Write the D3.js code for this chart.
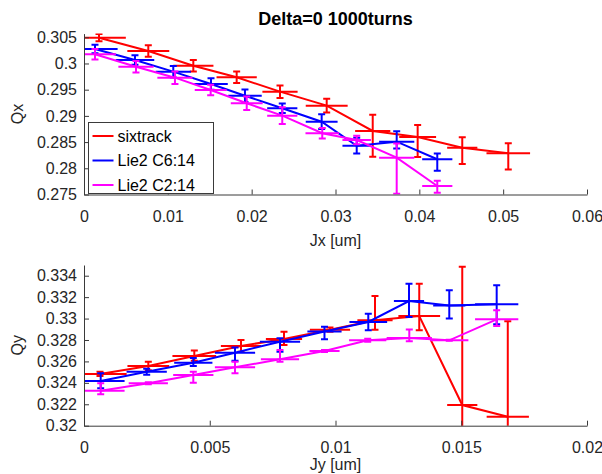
<!DOCTYPE html>
<html>
<head>
<meta charset="utf-8">
<script src="https://cdn.jsdelivr.net/npm/d3@7"></script>
<style>
body { margin: 0; background: #fff; }
text { font-family: "Liberation Sans", Arial, sans-serif; }
</style>
</head>
<body>
<svg width="602" height="474"></svg>
<script>
var seriesNames = ['sixtrack', 'Lie2 C6:14', 'Lie2 C2:14'];
var seriesColors = ['#ff0000', '#0000ff', '#ff00ff'];

// top panel: Qx against Jx (one inner array per series)
var topJx = [
    [0.00179, 0.00767, 0.01304, 0.01821, 0.02338, 0.02895, 0.03444, 0.03980, 0.04512, 0.05061],
    [0.00131, 0.00608, 0.01065, 0.01515, 0.01920, 0.02365, 0.02835, 0.03253, 0.03730, 0.04214],
    [0.00131, 0.00620, 0.01085, 0.01511, 0.01941, 0.02365, 0.02842, 0.03253, 0.03730, 0.04214]
];
var topQx = [
    [0.30492, 0.30239, 0.29958, 0.29737, 0.29462, 0.29195, 0.28712, 0.28597, 0.28393, 0.28286],
    [0.30277, 0.30067, 0.29844, 0.29609, 0.29385, 0.29145, 0.28889, 0.28431, 0.28508, 0.28172],
    [0.30176, 0.29939, 0.29729, 0.29494, 0.29240, 0.29004, 0.28668, 0.28540, 0.28202, 0.27662]
];
var topQxLo = [
    [0.0007, 0.0011, 0.0011, 0.0011, 0.0012, 0.0013, 0.0049, 0.0038, 0.0031, 0.0031],
    [0.0008, 0.0009, 0.0011, 0.0011, 0.0012, 0.0009, 0.0014, 0.0015, 0.0013, 0.0022],
    [0.0010, 0.0011, 0.0012, 0.0010, 0.0013, 0.0016, 0.0010, 0.0008, 0.0069, 0.0013]
];
var topQxHi = [
    [0.0007, 0.0011, 0.0011, 0.0011, 0.0012, 0.0013, 0.0031, 0.0023, 0.0020, 0.0019],
    [0.0008, 0.0009, 0.0011, 0.0011, 0.0012, 0.0009, 0.0014, 0.0015, 0.0020, 0.0011],
    [0.0010, 0.0011, 0.0012, 0.0010, 0.0013, 0.0016, 0.0010, 0.0008, 0.0027, 0.0010]
];
var topJxErr = [
    [0.0032, 0.0025, 0.0024, 0.0024, 0.0021, 0.0025, 0.0021, 0.0022, 0.0018, 0.0026],
    [0.0027, 0.0023, 0.0021, 0.0020, 0.0020, 0.0018, 0.0019, 0.0017, 0.0021, 0.0018],
    [0.0025, 0.0021, 0.0021, 0.0019, 0.0019, 0.0018, 0.0020, 0.0017, 0.0021, 0.0018]
];

// bottom panel: Qy against Jy
var botJy = [
    [0.000636, 0.002557, 0.004386, 0.006242, 0.007952, 0.009781, 0.01157, 0.01333, 0.01504, 0.01685],
    [0.000664, 0.002493, 0.004346, 0.006004, 0.007793, 0.009562, 0.011304, 0.012922, 0.014524, 0.016409],
    [0.000664, 0.002557, 0.004346, 0.006004, 0.007793, 0.009562, 0.01128, 0.012934, 0.014524, 0.016409]
];
var botQy = [
    [0.32483, 0.32557, 0.32651, 0.32744, 0.32809, 0.32896, 0.32984, 0.33024, 0.32193, 0.32084],
    [0.32417, 0.32504, 0.32588, 0.32681, 0.32784, 0.32879, 0.32968, 0.33164, 0.33122, 0.33133],
    [0.32327, 0.32396, 0.32473, 0.32545, 0.32620, 0.32697, 0.32797, 0.32819, 0.32797, 0.32993]
];
var botQyLo = [
    [0.0002, 0.0004, 0.00044, 0.00053, 0.00056, 0.0002, 0.00088, 0.00133, 0.0129, 0.0089],
    [0.00068, 0.00028, 0.00031, 0.00075, 0.00093, 0.00073, 0.00077, 0.00149, 0.00121, 0.00187],
    [0.00034, 0.0001, 0.00072, 0.00056, 0.00022, 0.0001, 0.00014, 0.00031, 0.00005, 0.00063]
];
var botQyHi = [
    [0.0002, 0.0004, 0.0005, 0.00056, 0.00068, 0.0002, 0.00227, 0.00301, 0.0129, 0.0089],
    [0.00072, 0.00028, 0.00044, 0.0005, 0.00032, 0.00045, 0.00077, 0.00161, 0.00142, 0.00177],
    [0.00069, 0.0001, 0.00031, 0.00052, 0.00087, 0.0001, 0.00014, 0.00078, 0.00005, 0.00084]
];
var botJyErr = [
    [0.00106, 0.00083, 0.00087, 0.0008, 0.00072, 0.0008, 0.0007, 0.00083, 0.0006, 0.00084],
    [0.00095, 0.0008, 0.00076, 0.0008, 0.0008, 0.00068, 0.00075, 0.0006, 0.00064, 0.00086],
    [0.00095, 0.00078, 0.0008, 0.0008, 0.00076, 0.0006, 0.00074, 0.0009, 0.00076, 0.00086]
];

var topXTicks = [0, 0.01, 0.02, 0.03, 0.04, 0.05, 0.06];
var topYTicks = [0.275, 0.28, 0.285, 0.29, 0.295, 0.3, 0.305];
var botXTicks = [0, 0.005, 0.01, 0.015, 0.02];
var botYTicks = [0.32, 0.322, 0.324, 0.326, 0.328, 0.33, 0.332, 0.334];

var svg = d3.select('svg');
var axisColor = '#3a3a3a';
var textColor = '#262626';

function fmt(d) { return String(+d.toFixed(4)); }

function drawPanel(p) {
    var scaleX = d3.scaleLinear().domain(p.xDomain).range([84, 587]);
    var scaleY = d3.scaleLinear().domain(p.yDomain).range(p.yRange);

    var clipId = 'clip' + p.id;
    svg.append('clipPath').attr('id', clipId)
        .append('rect')
        .attr('x', 84).attr('y', p.yRange[1])
        .attr('width', 503).attr('height', p.yRange[0] - p.yRange[1]);

    var g = svg.append('g').attr('clip-path', 'url(#' + clipId + ')');

    p.xs.forEach(function(xs, s) {
        var pts = xs.map(function(x, i) {
            return { x: x, y: p.ys[s][i], lo: p.lo[s][i], hi: p.hi[s][i], xe: p.xe[s][i] };
        });
        var col = seriesColors[s];
        var sg = g.append('g')
            .attr('stroke', col)
            .attr('stroke-width', 2)
            .attr('fill', 'none');

        sg.append('path')
            .datum(pts)
            .attr('d', d3.line()
                .x(function(d) { return scaleX(d.x); })
                .y(function(d) { return scaleY(d.y); }));

        // horizontal error bars
        sg.selectAll('.hbar')
            .data(pts)
            .enter()
            .append('line')
            .attr('x1', function(d) { return scaleX(d.x - d.xe); })
            .attr('x2', function(d) { return scaleX(d.x + d.xe); })
            .attr('y1', function(d) { return scaleY(d.y); })
            .attr('y2', function(d) { return scaleY(d.y); });

        // vertical error bars with caps
        sg.selectAll('.vbar')
            .data(pts)
            .enter()
            .append('path')
            .attr('d', function(d) {
                var cx = scaleX(d.x);
                var yt = scaleY(d.y + d.hi);
                var yb = scaleY(d.y - d.lo);
                return 'M' + cx + ',' + yt + 'V' + yb +
                    'M' + (cx - 3.5) + ',' + yt + 'H' + (cx + 3.5) +
                    'M' + (cx - 3.5) + ',' + yb + 'H' + (cx + 3.5);
            });
    });

    var xAxis = svg.append('g')
        .attr('transform', 'translate(0,' + p.yRange[0] + ')')
        .call(d3.axisBottom(scaleX).tickValues(p.xTicks).tickFormat(fmt)
            .tickSizeInner(-5).tickSizeOuter(0).tickPadding(16));

    var yAxis = svg.append('g')
        .attr('transform', 'translate(84,0)')
        .call(d3.axisLeft(scaleY).tickValues(p.yTicks).tickFormat(fmt)
            .tickSizeInner(-5).tickSizeOuter(0).tickPadding(7));

    [xAxis, yAxis].forEach(function(a) {
        a.select('.domain').attr('stroke', axisColor);
        a.selectAll('.tick line').attr('stroke', axisColor);
        a.selectAll('.tick text')
            .attr('fill', textColor)
            .style('font-size', '16px')
            .style('font-family', '"Liberation Sans", Arial, sans-serif');
    });

    svg.append('text')
        .text(p.xLabel)
        .attr('x', 335.5)
        .attr('y', p.yRange[0] + p.xLabelGap)
        .attr('text-anchor', 'middle')
        .attr('fill', textColor)
        .style('font-size', '16px');

    svg.append('text')
        .text(p.yLabel)
        .attr('transform', 'translate(23,' + ((p.yRange[0] + p.yRange[1]) / 2) + ')rotate(-90)')
        .attr('text-anchor', 'middle')
        .attr('fill', textColor)
        .style('font-size', '16px');
}

drawPanel({
    id: 'top',
    xDomain: [0, 0.06], yDomain: [0.275, 0.3057], yRange: [194.5, 33.6],
    xs: topJx, ys: topQx, lo: topQxLo, hi: topQxHi, xe: topJxErr,
    xTicks: topXTicks, yTicks: topYTicks,
    xLabel: 'Jx [um]', yLabel: 'Qx', xLabelGap: 51
});

drawPanel({
    id: 'bot',
    xDomain: [0, 0.02], yDomain: [0.32, 0.335], yRange: [425.7, 265],
    xs: botJy, ys: botQy, lo: botQyLo, hi: botQyHi, xe: botJyErr,
    xTicks: botXTicks, yTicks: botYTicks,
    xLabel: 'Jy [um]', yLabel: 'Qy', xLabelGap: 44
});

svg.append('text')
    .text('Delta=0 1000turns')
    .attr('x', 335.5)
    .attr('y', 24.5)
    .attr('text-anchor', 'middle')
    .attr('fill', '#000')
    .style('font-size', '18px')
    .style('font-weight', 'bold');

// legend
var legend = svg.append('g').attr('transform', 'translate(88.5,122.5)');
legend.append('rect')
    .attr('width', 125).attr('height', 71)
    .attr('fill', '#fff').attr('stroke', axisColor);

seriesNames.forEach(function(name, i) {
    var y = 13.5 + i * 24.5;
    legend.append('line')
        .attr('x1', 4).attr('x2', 25)
        .attr('y1', y).attr('y2', y)
        .attr('stroke', seriesColors[i]).attr('stroke-width', 2);
    legend.append('text')
        .text(name)
        .attr('x', 29).attr('y', y + 5.5)
        .attr('fill', '#000')
        .style('font-size', '16px');
});
</script>
</body>
</html>
